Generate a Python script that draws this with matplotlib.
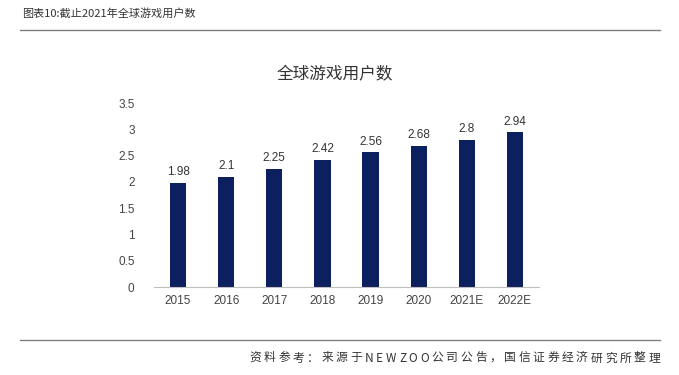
import matplotlib

matplotlib.use("Agg")
import matplotlib.pyplot as plt

plt.rcParams["font.family"] = ["Noto Sans CJK SC", "DejaVu Sans"]

years = ["2015", "2016", "2017", "2018", "2019", "2020", "2021E", "2022E"]
users = [1.98, 2.1, 2.25, 2.42, 2.56, 2.68, 2.8, 2.94]
yticks = [0, 0.5, 1, 1.5, 2, 2.5, 3, 3.5]
ytick_labels = ["0", "0.5", "1", "1.5", "2", "2.5", "3", "3.5"]

BAR_COLOR = "#0c1f5e"
W, H = 679, 375


def spaced_text(fig, x_right, y, s, gap, **kw):
    """Right-aligned text drawn char by char with extra letter spacing (pixels)."""
    renderer = fig.canvas.get_renderer()
    widths = []
    for ch in s:
        t = fig.text(0, 0, ch, **kw)
        widths.append(t.get_window_extent(renderer).width)
        t.remove()
    total = sum(widths) + gap * (len(s) - 1)
    x = x_right - total
    for ch, w in zip(s, widths):
        fig.text(x / W, y, ch, ha="left", va="center", **kw)
        x += w + gap


fig = plt.figure(figsize=(6.79, 3.75), dpi=100)
ax = fig.add_axes([154 / W, 1 - 287 / H, 385 / W, 184 / H])

bars = ax.bar(range(len(years)), users, width=0.34, color=BAR_COLOR)
for bar, v in zip(bars, users):
    ax.text(bar.get_x() + bar.get_width() / 2, v + 0.09, f"{v:g}",
            ha="center", va="bottom", fontsize=8.5, color="#333333",
            family="Liberation Sans")

ax.set_xlim(-0.5, len(years) - 0.5)
ax.set_ylim(0, 3.5)
ax.set_yticks(yticks)
ax.set_yticklabels(ytick_labels, family="Liberation Sans", fontsize=8.5, color="#444444")
ax.set_xticks(range(len(years)))
ax.set_xticklabels(years, family="Liberation Sans", fontsize=8.5, color="#444444")
ax.tick_params(axis="both", length=0)
ax.tick_params(axis="y", pad=14)
ax.tick_params(axis="x", pad=6)
for side in ["top", "right", "left"]:
    ax.spines[side].set_visible(False)
ax.spines["bottom"].set_color("#bfbfbf")
ax.spines["bottom"].set_linewidth(0.8)

fig.text(335 / W, 1 - 75 / H, "全球游戏用户数", ha="center", va="center",
         fontsize=12, color="#333333")

# header and footer
fig.text(22 / W, 1 - 13 / H, "图表10:截止2021年全球游戏用户数", ha="left", va="center",
         fontsize=8, color="#333333")
fig.add_artist(plt.Line2D([20 / W, 660 / W], [1 - 30 / H] * 2,
                          color="#808080", linewidth=1.0))
fig.add_artist(plt.Line2D([20 / W, 660 / W], [1 - 340 / H] * 2,
                          color="#808080", linewidth=1.0))
spaced_text(fig, 660, 1 - 358 / H, "资料参考：来源于NEWZOO公司公告，国信证券经济研究所整理",
            gap=2.7, fontsize=8.5, color="#333333")

fig.savefig("out.png", dpi=100)
plt.close(fig)
